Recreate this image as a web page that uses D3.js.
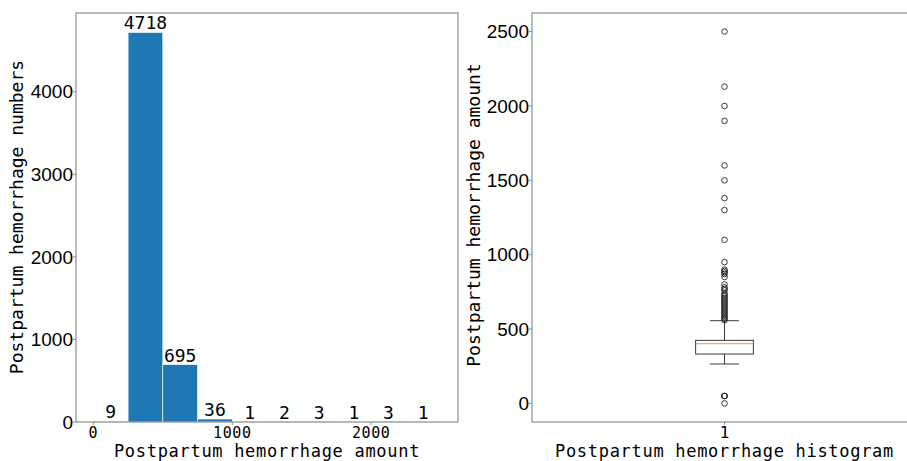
<!DOCTYPE html>
<html>
<head>
<meta charset="utf-8">
<script src="https://cdn.jsdelivr.net/npm/d3@7"></script>
<style>
  body { margin: 0; background: #fff; }
  svg { display: block; }
</style>
</head>
<body>
<div id="chart"></div>
<script>
// Histogram data (bin edges and counts)
const binEdges = [0, 250, 500, 750, 1000, 1250, 1500, 1750, 2000, 2250, 2500];
const binCounts = [9, 4718, 695, 36, 1, 2, 3, 1, 3, 1];
const histXTicks = [0, 1000, 2000];
const histYTicks = [0, 1000, 2000, 3000, 4000];

// Boxplot summary
const boxStats = { q1: 332, median: 402, q3: 424, whiskerLow: 265, whiskerHigh: 556 };
const outliers = [0, 50, 50, 50,
  560, 570, 580, 590, 600, 610, 620, 630, 640, 650, 660, 670, 680, 690, 700, 710, 720, 730, 740,
  760, 770, 780, 800, 850, 870, 880, 890, 900, 950,
  1100, 1300, 1380, 1500, 1600, 1900, 2000, 2130, 2500];
const boxYTicks = [0, 500, 1000, 1500, 2000, 2500];

const width = 907, height = 461;
const spineColor = "#8c8c8c";
const monoFont = "'DejaVu Sans Mono', 'Liberation Mono', monospace";
const sansFont = "'Liberation Sans', Arial, sans-serif";

const svg = d3.select("#chart").append("svg")
    .attr("width", width)
    .attr("height", height);

// ---------- Left: histogram ----------
const x1 = d3.scaleLinear().domain([-125, 2625]).range([76, 458]);
const y1 = d3.scaleLinear().domain([0, 4718 * 1.05]).range([422, 13]);

const bins = binCounts.map((c, i) => ({ x0: binEdges[i], x1: binEdges[i + 1], count: c }));

svg.append("g").selectAll("rect")
    .data(bins)
    .enter().append("rect")
    .attr("x", d => x1(d.x0))
    .attr("y", d => y1(d.count))
    .attr("width", d => x1(d.x1) - x1(d.x0))
    .attr("height", d => y1(0) - y1(d.count))
    .attr("fill", "#1f77b4")
    .attr("stroke", "#ffffff")
    .attr("stroke-width", 0.6);

// bar labels
svg.append("g").selectAll("text")
    .data(bins)
    .enter().append("text")
    .attr("x", d => x1((d.x0 + d.x1) / 2))
    .attr("y", d => y1(d.count) - 3)
    .attr("text-anchor", "middle")
    .style("font-family", monoFont)
    .style("font-size", "18px")
    .text(d => d.count);

// frame
svg.append("rect")
    .attr("x", 76).attr("y", 13)
    .attr("width", 458 - 76).attr("height", 422 - 13)
    .attr("fill", "none")
    .attr("stroke", spineColor)
    .attr("stroke-width", 1.2);

// y ticks
const gy1 = svg.append("g").selectAll("g").data(histYTicks).enter().append("g");
gy1.append("line")
    .attr("x1", 73).attr("x2", 76)
    .attr("y1", d => y1(d)).attr("y2", d => y1(d))
    .attr("stroke", spineColor);
gy1.append("text")
    .attr("x", 73).attr("y", d => y1(d))
    .attr("dy", "0.35em")
    .attr("text-anchor", "end")
    .style("font-family", sansFont)
    .style("font-size", "19px")
    .text(d => d);

// x ticks
const gx1 = svg.append("g").selectAll("g").data(histXTicks).enter().append("g");
gx1.append("line")
    .attr("x1", d => x1(d)).attr("x2", d => x1(d))
    .attr("y1", 422).attr("y2", 425)
    .attr("stroke", spineColor);
gx1.append("text")
    .attr("x", d => x1(d)).attr("y", 437.5)
    .attr("text-anchor", "middle")
    .style("font-family", monoFont)
    .style("font-size", "15px")
    .style("letter-spacing", "0.6px")
    .text(d => d);

// axis labels
svg.append("text")
    .attr("x", 267).attr("y", 457)
    .attr("text-anchor", "middle")
    .style("font-family", monoFont)
    .style("font-size", "17px")
    .style("letter-spacing", "0.7px")
    .text("Postpartum hemorrhage amount");

svg.append("text")
    .attr("transform", "translate(23,217) rotate(-90)")
    .attr("text-anchor", "middle")
    .style("font-family", monoFont)
    .style("font-size", "18px")
    .text("Postpartum hemorrhage numbers");

// ---------- Right: boxplot ----------
const x2 = d3.scaleLinear().domain([0.5, 1.5]).range([532, 917]);
const y2 = d3.scaleLinear().domain([-125, 2625]).range([422, 13]);
const boxW = x2(1 + 0.075) - x2(1 - 0.075);
const cx = x2(1);
const boxStroke = "#3a3a3a";

const bp = svg.append("g");
// whiskers
bp.append("line")
    .attr("x1", cx).attr("x2", cx)
    .attr("y1", y2(boxStats.q3)).attr("y2", y2(boxStats.whiskerHigh))
    .attr("stroke", boxStroke);
bp.append("line")
    .attr("x1", cx).attr("x2", cx)
    .attr("y1", y2(boxStats.q1)).attr("y2", y2(boxStats.whiskerLow))
    .attr("stroke", boxStroke);
// caps
[boxStats.whiskerHigh, boxStats.whiskerLow].forEach(v => {
    bp.append("line")
        .attr("x1", cx - boxW / 4).attr("x2", cx + boxW / 4)
        .attr("y1", y2(v)).attr("y2", y2(v))
        .attr("stroke", boxStroke);
});
// box
bp.append("rect")
    .attr("x", cx - boxW / 2)
    .attr("y", y2(boxStats.q3))
    .attr("width", boxW)
    .attr("height", y2(boxStats.q1) - y2(boxStats.q3))
    .attr("fill", "none")
    .attr("stroke", boxStroke);
// median
bp.append("line")
    .attr("x1", cx - boxW / 2).attr("x2", cx + boxW / 2)
    .attr("y1", y2(boxStats.median)).attr("y2", y2(boxStats.median))
    .attr("stroke", "#ff7f0e")
    .attr("stroke-width", 1.2)
    .attr("stroke-opacity", 0.7);
// fliers
bp.selectAll("circle")
    .data(outliers)
    .enter().append("circle")
    .attr("cx", cx)
    .attr("cy", d => y2(d))
    .attr("r", 2.8)
    .attr("fill", "none")
    .attr("stroke", "#222")
    .attr("stroke-width", 0.9);

// frame
svg.append("rect")
    .attr("x", 532).attr("y", 13)
    .attr("width", 917 - 532).attr("height", 422 - 13)
    .attr("fill", "none")
    .attr("stroke", spineColor)
    .attr("stroke-width", 1.2);

// y ticks
const gy2 = svg.append("g").selectAll("g").data(boxYTicks).enter().append("g");
gy2.append("line")
    .attr("x1", 529).attr("x2", 532)
    .attr("y1", d => y2(d)).attr("y2", d => y2(d))
    .attr("stroke", spineColor);
gy2.append("text")
    .attr("x", 529).attr("y", d => y2(d))
    .attr("dy", "0.35em")
    .attr("text-anchor", "end")
    .style("font-family", sansFont)
    .style("font-size", "19px")
    .text(d => d);

// x tick
svg.append("line")
    .attr("x1", cx).attr("x2", cx)
    .attr("y1", 422).attr("y2", 425)
    .attr("stroke", spineColor);
svg.append("text")
    .attr("x", cx).attr("y", 437.5)
    .attr("text-anchor", "middle")
    .style("font-family", monoFont)
    .style("font-size", "16px")
    .text("1");

svg.append("text")
    .attr("x", cx).attr("y", 457)
    .attr("text-anchor", "middle")
    .style("font-family", monoFont)
    .style("font-size", "17px")
    .style("letter-spacing", "0.7px")
    .text("Postpartum hemorrhage histogram");

svg.append("text")
    .attr("transform", "translate(480,215) rotate(-90)")
    .attr("text-anchor", "middle")
    .style("font-family", monoFont)
    .style("font-size", "18px")
    .text("Postpartum hemorrhage amount");
</script>
</body>
</html>
